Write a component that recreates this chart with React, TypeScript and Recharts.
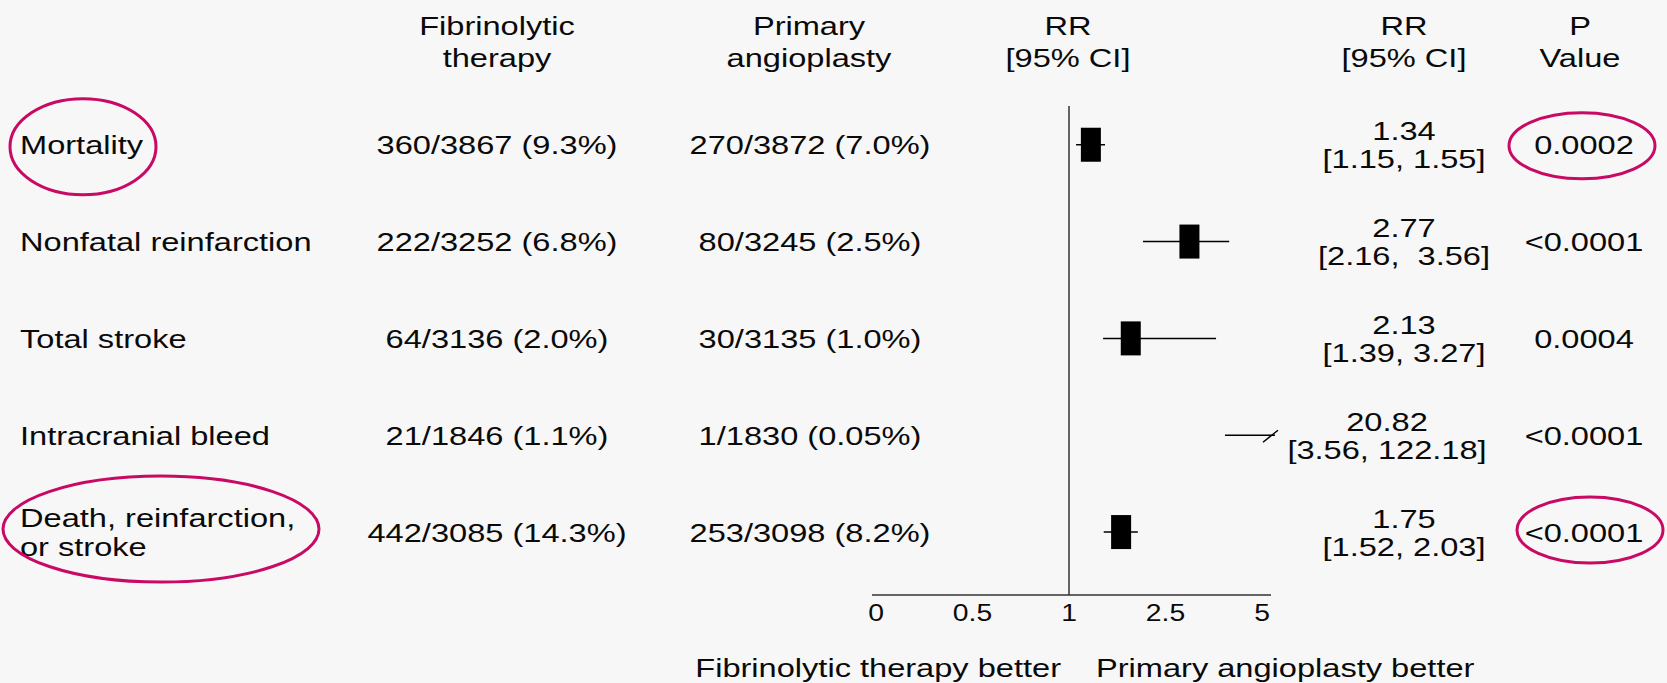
import { ScatterChart, Scatter, XAxis, YAxis, ErrorBar, ReferenceLine } from 'recharts'

// Table columns (as printed on the slide)
const outcomes = [
  ['Mortality'],
  ['Nonfatal reinfarction'],
  ['Total stroke'],
  ['Intracranial bleed'],
  ['Death, reinfarction,', 'or stroke'],
]
const fibrinolytic = ['360/3867 (9.3%)', '222/3252 (6.8%)', '64/3136 (2.0%)', '21/1846 (1.1%)', '442/3085 (14.3%)']
const angioplasty = ['270/3872 (7.0%)', '80/3245 (2.5%)', '30/3135 (1.0%)', '1/1830 (0.05%)', '253/3098 (8.2%)']
const rrText = ['1.34', '2.77', '2.13', '20.82', '1.75']
const ciText = ['[1.15, 1.55]', '[2.16,  3.56]', '[1.39, 3.27]', '[3.56, 122.18]', '[1.52, 2.03]']
const pValues = ['0.0002', '<0.0001', '0.0004', '<0.0001', '<0.0001']
const circled = [true, false, false, false, true]

// where the marks sit on the drawn axis (RR units)
const plotEst = [1.34, 3.12, 1.96, null, 1.81]
const plotLo = [1.11, 2.15, 1.53, 4.04, 1.54]
const plotHi = [1.56, 4.15, 3.81, 5, 2.07]
const xTicks = [0, 0.5, 1, 2.5, 5]

// axis is drawn with evenly spaced ticks, so map RR piecewise onto tick index
const pos = (v: number) => {
  for (let k = 1; k < xTicks.length; k++) {
    if (v <= xTicks[k]) return k - 1 + (v - xTicks[k - 1]) / (xTicks[k] - xTicks[k - 1])
  }
  return xTicks.length - 1
}

const rows = outcomes.map((_, i) => ({ x: 0, y: i + 1, i }))
const estRows = plotEst
  .map((e, i) => (e == null ? null : { x: pos(e), y: i + 1, err: [pos(e) - pos(plotLo[i]), pos(plotHi[i]) - pos(e)] }))
  .filter(Boolean)
const offscale = [
  { x: pos(plotLo[3]), y: 4, tip: false },
  { x: pos(plotHi[3]), y: 4, tip: true },
]

const SX = 1.23
const FONT = '"Liberation Sans", Arial, sans-serif'
const INK = '#0a0a0a'
const RING = '#c80a64'

const T = ({ x, y, anchor = 'middle', size = 26.5, children }: any) => (
  <text
    transform={`translate(${x},${y}) scale(${SX},1)`}
    textAnchor={anchor}
    fontSize={size}
    fontFamily={FONT}
    fill={INK}
    style={{ whiteSpace: 'pre' }}
  >
    {children}
  </text>
)

const COL = { label: 20, fib: 497, pri: 810, rr: 1404, p: 1584 }
const rrShift: Record<number, number> = { 3: -17 }
const labelRings: Record<number, { cx: number; dy: number; rx: number; ry: number }> = {
  0: { cx: 83, dy: 2, rx: 73, ry: 48 },
  4: { cx: 161, dy: -3, rx: 158, ry: 53 },
}
const pRings: Record<number, { cx: number; dy: number }> = {
  0: { cx: 1582, dy: 1 },
  4: { cx: 1590, dy: -2 },
}

const RowText = (props: any) => {
  const { cy, payload } = props
  const i = payload.i
  const lines = outcomes[i]
  const base = cy + 9.5
  const rrX = COL.rr + (rrShift[i] ?? 0)
  return (
    <g>
      {lines.map((l, k) => (
        <T key={k} x={COL.label} y={base + (k - (lines.length - 1) / 2) * 29} anchor="start">
          {l}
        </T>
      ))}
      <T x={COL.fib} y={base}>{fibrinolytic[i]}</T>
      <T x={COL.pri} y={base}>{angioplasty[i]}</T>
      <T x={rrX} y={base - 14}>{rrText[i]}</T>
      <T x={rrX} y={base + 14}>{ciText[i]}</T>
      <T x={COL.p} y={base}>{pValues[i]}</T>
      {circled[i] && (
        <g fill="none" stroke={RING} strokeWidth={3}>
          <ellipse cx={labelRings[i].cx} cy={cy + labelRings[i].dy} rx={labelRings[i].rx} ry={labelRings[i].ry} />
          <ellipse cx={pRings[i].cx} cy={cy + pRings[i].dy} rx={73} ry={33} />
        </g>
      )}
    </g>
  )
}

const Box = (props: any) => {
  const { cx, cy } = props
  return <rect x={cx - 10} y={cy - 17} width={20} height={34} fill="#000" />
}

// off-scale marker at the right end of the bleed row
const Tip = (props: any) => {
  const { cx, cy, payload } = props
  if (!payload.tip) return <g />
  return (
    <g stroke="#000" strokeWidth={1.5}>
      <line x1={cx} y1={cy} x2={cx + 13} y2={cy} />
      <line x1={cx + 1} y1={cy + 7} x2={cx + 16} y2={cy - 5} />
    </g>
  )
}

const Frame = () => (
  <g>
    <T x={497} y={35}>Fibrinolytic</T>
    <T x={497} y={67}>therapy</T>
    <T x={809} y={35}>Primary</T>
    <T x={809} y={67}>angioplasty</T>
    <T x={1068} y={35}>RR</T>
    <T x={1068} y={67}>[95% CI]</T>
    <T x={1404} y={35}>RR</T>
    <T x={1404} y={67}>[95% CI]</T>
    <T x={1580} y={35}>P</T>
    <T x={1580} y={67}>Value</T>
    <T x={1061} y={677} anchor="end">Fibrinolytic therapy better</T>
    <T x={1096} y={677} anchor="start">Primary angioplasty better</T>
  </g>
)

const AxisTick = (props: any) => {
  const { x, y, payload } = props
  return (
    <T x={x} y={y + 18} size={23}>
      {String(xTicks[payload.value])}
    </T>
  )
}

export default function App() {
  return (
    <div style={{ position: 'absolute', left: 0, top: 0, width: 1667, height: 683, background: '#f7f7f7' }}>
      <ScatterChart width={1667} height={683} margin={{ top: 106, left: 872, right: 396, bottom: 58 }}>
        <XAxis
          type="number"
          dataKey="x"
          domain={[0, 4]}
          ticks={[0, 1, 2, 3, 4]}
          padding={{ left: 4, right: 9 }}
          height={30}
          tickLine={false}
          axisLine={{ stroke: '#333', strokeWidth: 1.5 }}
          tick={<AxisTick />}
          label={{ content: () => <Frame /> }}
        />
        <YAxis type="number" dataKey="y" domain={[0.6, 5.65]} reversed hide width={0} />
        <ReferenceLine x={2} stroke="#333" strokeWidth={1.5} />
        <Scatter data={rows} shape={<RowText />} isAnimationActive={false} />
        <Scatter data={offscale} line={{ stroke: '#000', strokeWidth: 1.5 }} shape={<Tip />} isAnimationActive={false} />
        <Scatter data={estRows} shape={<Box />} isAnimationActive={false}>
          <ErrorBar dataKey="err" direction="x" width={0} stroke="#000" strokeWidth={1.5} isAnimationActive={false} />
        </Scatter>
      </ScatterChart>
    </div>
  )
}
